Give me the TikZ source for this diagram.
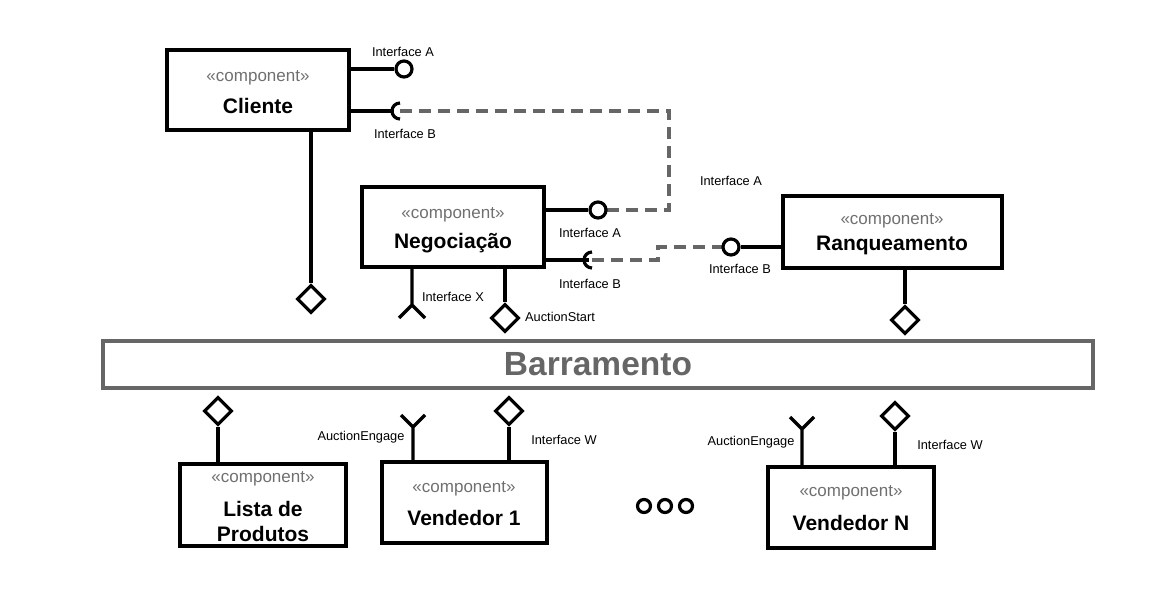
\documentclass[tikz,border=0pt]{standalone}
\usepackage{fontspec}
\setmainfont{Liberation Sans}
\usetikzlibrary{shapes.geometric}
\usetikzlibrary{positioning}
\definecolor{stereogray}{HTML}{707070}
\definecolor{busgray}{HTML}{666666}
\newcommand{\fork}[3]% vertex, dx, dy
{(#1) -- ++(-#2,#3) (#1) -- ++(#2,#3)
}

\begin{document}
\begin{tikzpicture}[x=1pt,y=-1pt,
	comp/.style={draw, line width=3.2pt, fill=white, inner sep=0pt},
	stereo/.style={text=stereogray, font=\fontsize{17}{20}\selectfont},
	cname/.style={font=\fontsize{21}{25}\selectfont\bfseries, align=center},
	lolli/.style={draw, circle, line width=3.2pt, fill=white, minimum size=16pt, inner sep=0pt},
	port/.style={draw, diamond, aspect=1, line width=3.2pt, fill=white, minimum size=28pt, inner sep=0pt},
	lbl/.style={font=\fontsize{12.8}{15}\selectfont, inner sep=0pt},
	dashline/.style={draw=busgray, line width=3.2pt, dash pattern=on 12pt off 7pt},
	wire/.style={line width=3.2pt}]
	\useasboundingbox (0,0) rectangle (1156,601);
	% components
	\node[comp, minimum width=182pt, minimum height=80pt] (cli) at (258,90){};
	\node[comp, minimum width=182pt, minimum height=80pt] (neg) at (453,227){};
	\node[comp, minimum width=219pt, minimum height=72pt] (ran) at (892.5,232){};
	\node[comp, minimum width=166pt, minimum height=82pt] (lis) at (263,505){};
	\node[comp, minimum width=165pt, minimum height=81pt] (ven1) at (464.5,502.5){};
	\node[comp, minimum width=166pt, minimum height=81pt] (venN) at (851,507.5){};
	\node[stereo] at (258,78){«component»};
	\node[cname] at (258,106){Cliente};
	\node[stereo] at (453,215){«component»};
	\node[cname] at (453,243){Negociação};
	\node[stereo] at (892,221){«component»};
	\node[cname] at (892,245){Ranqueamento};
	\node[stereo] at (263,479){«component»};
	\node[cname] at (263,521){Lista de\\Produtos};
	\node[stereo] at (464,489){«component»};
	\node[cname] at (464,518){Vendedor 1};
	\node[stereo] at (851,493){«component»};
	\node[cname] at (851,523){Vendedor N};
	% bus
	\node[draw=busgray, line width=3.2pt, minimum width=990pt, minimum height=47pt,
		text=busgray, font=\fontsize{33.5}{40}\selectfont\bfseries] (bar) at (598,364.5){Barramento};
	% provided / required interfaces
	\coordinate (ib1) at (400,111);
	\coordinate (ib2) at (592,260);
	\draw[dashline] (ib1) -- ++(269,0) |- (598,210);
	\draw[dashline] (ib2) -- ++(66,0) |- (731,247);
	\node[lolli] (ia1) at (404,69){};
	\node[lolli] (ia2) at (598,210){};
	\node[lolli] (ib3) at (731,247){};
	\draw[wire] (cli.east |- ia1) -- (ia1);
	\draw[wire] (neg.east |- ia2) -- (ia2);
	\draw[wire] (ran.west |- ib3) -- (ib3);
	\draw[wire] (cli.east |- ib1) -- ++(43,0);
	\draw[wire] (ib1) ++(0,8) arc[start angle=90, end angle=270, radius=8];
	\draw[wire] (neg.east |- ib2) -- ++(43,0);
	\draw[wire] (ib2) ++(0,8) arc[start angle=90, end angle=270, radius=8];
	% bus ports
	\node[port] (dcli) at (311,299){};
	\node[port] (dneg) at (505,318){};
	\node[port] (dran) at (905,320){};
	\node[port] (dlis) at (218,411){};
	\node[port] (dven1) at (509,411){};
	\node[port] (dvenN) at (895,416){};
	\draw[wire] (cli.south -| dcli) -- (dcli);
	\draw[wire] (neg.south -| dneg) -- (dneg);
	\draw[wire] (ran.south -| dran) -- (dran);
	\draw[wire] (lis.north -| dlis) -- (dlis);
	\draw[wire] (ven1.north -| dven1) -- (dven1);
	\draw[wire] (venN.north -| dvenN) -- (dvenN);
	\coordinate (fneg) at (412,305);
	\coordinate (fven1) at (413,427);
	\coordinate (fvenN) at (802,429);
	\draw[wire] (neg.south -| fneg) -- \fork{fneg}{13}{13};
	\draw[wire] (ven1.north -| fven1) -- \fork{fven1}{12}{-12};
	\draw[wire] (venN.north -| fvenN) -- \fork{fvenN}{12}{-12};
	% labels
	\node[lbl] at (403,52){Interface A};
	\node[lbl] at (405,134){Interface B};
	\node[lbl] at (590,233){Interface A};
	\node[lbl] at (590,284){Interface B};
	\node[lbl] at (453,297){Interface X};
	\node[lbl] at (560,317){AuctionStart};
	\node[lbl] at (731,181){Interface A};
	\node[lbl] at (740,269){Interface B};
	\node[lbl] at (361,437){AuctionEngage};
	\node[lbl] at (564,440){Interface W};
	\node[lbl] at (751,442){AuctionEngage};
	\node[lbl] at (950,445){Interface W};
	% more sellers
	\foreach \x in {644,665,686}
		\draw[wire] (\x,506) circle[radius=6.5];
\end{tikzpicture}
\end{document}
